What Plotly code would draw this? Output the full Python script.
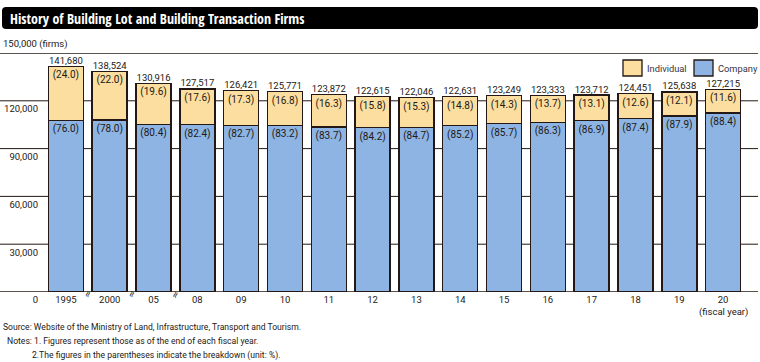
import plotly.graph_objects as go

years = ["1995", "2000", "05", "08", "09", "10", "11", "12", "13", "14", "15", "16", "17", "18", "19", "20"]
totals = [141680, 138524, 130916, 127517, 126421, 125771, 123872, 122615, 122046, 122631,
          123249, 123333, 123712, 124451, 125638, 127215]
company_pct = [76.0, 78.0, 80.4, 82.4, 82.7, 83.2, 83.7, 84.2, 84.7, 85.2, 85.7, 86.3, 86.9, 87.4, 87.9, 88.4]
individual_pct = [24.0, 22.0, 19.6, 17.6, 17.3, 16.8, 16.3, 15.8, 15.3, 14.8, 14.3, 13.7, 13.1, 12.6, 12.1, 11.6]
y_ticks = [0, 30000, 60000, 90000, 120000]
y_top = 150000
series_names = ["Individual", "Company"]

company_vals = [t * p / 100 for t, p in zip(totals, company_pct)]
individual_vals = [t - c for t, c in zip(totals, company_vals)]

FONT = "Roboto, DejaVu Sans Condensed, sans-serif"
TFONT = "Open Sans Condensed, DejaVu Sans Condensed, sans-serif"
INK = "#231815"
COLORS = {"Individual": "#FCDFA0", "Company": "#8DB4E2"}
W, H = 760, 362
L, R, T, B = 44, 745, 53, 292
PW, PH = R - L, B - T


def px(x):
    return (x - L) / PW


def py(y):
    return (B - y) / PH


fig = go.Figure()
fig.add_trace(go.Bar(
    name="Company", x=years, y=company_vals, customdata=company_pct,
    marker=dict(color=COLORS["Company"], line=dict(color=INK, width=1.5)),
    texttemplate="(%{customdata:.1f})", textposition="inside", insidetextanchor="end",
    textangle=0, constraintext="none", showlegend=False,
    textfont=dict(family=FONT, size=10, color=INK), hoverinfo="skip",
))
fig.add_trace(go.Bar(
    name="Individual", x=years, y=individual_vals, customdata=individual_pct,
    marker=dict(color=COLORS["Individual"], line=dict(color=INK, width=1.5)),
    texttemplate="(%{customdata:.1f})", textposition="inside", insidetextanchor="end",
    textangle=0, constraintext="none", showlegend=False,
    textfont=dict(family=FONT, size=10, color=INK), hoverinfo="skip",
))
fig.add_trace(go.Scatter(
    x=years, y=totals, mode="text", text=[f"{v:,}" for v in totals],
    textposition="top center", textfont=dict(family=FONT, size=9.5, color=INK),
    showlegend=False, cliponaxis=False, hoverinfo="skip",
))

shapes = []
# title bar
x0, x1, y0, y1, r = px(2), px(758), py(29), py(7), 4
rx, ry = r / PW, r / PH
shapes.append(dict(
    type="path", xref="paper", yref="paper", layer="above",
    path=(f"M{x0+rx},{y0} L{x1-rx},{y0} Q{x1},{y0} {x1},{y0+ry} L{x1},{y1-ry} Q{x1},{y1} {x1-rx},{y1} "
          f"L{x0+rx},{y1} Q{x0},{y1} {x0},{y1-ry} L{x0},{y0+ry} Q{x0},{y0} {x0+rx},{y0} Z"),
    fillcolor="black", line=dict(width=0),
))
for v in y_ticks + [y_top]:
    shapes.append(dict(type="line", xref="paper", yref="y", x0=px(0), x1=px(758), y0=v, y1=v,
                       layer="below", line=dict(color=INK, width=1.3 if v in (0, y_top) else 1)))

annotations = [
    dict(text="<b>History of Building Lot and Building Transaction Firms</b>", xref="paper", yref="paper",
         x=px(8), y=py(18), xanchor="left", yanchor="middle", showarrow=False,
         font=dict(family=TFONT, size=14, color="white")),
    dict(text="150,000 (firms)", xref="paper", yref="paper", x=px(1), y=py(44), xanchor="left",
         yanchor="middle", showarrow=False, font=dict(family=FONT, size=9.5, color=INK)),
    dict(text="(fiscal year)", xref="x", yref="paper", x=15, y=py(312), xanchor="center",
         yanchor="middle", showarrow=False, font=dict(family=FONT, size=9.5, color=INK)),
    dict(text="Source: Website of the Ministry of Land, Infrastructure, Transport and Tourism.",
         xref="paper", yref="paper", x=px(1), y=py(327), xanchor="left", yanchor="middle",
         showarrow=False, font=dict(family=FONT, size=8.6, color=INK)),
    dict(text="Notes: 1. Figures represent those as of the end of each fiscal year.",
         xref="paper", yref="paper", x=px(5), y=py(341), xanchor="left", yanchor="middle",
         showarrow=False, font=dict(family=FONT, size=8.6, color=INK)),
    dict(text="2.The figures in the parentheses indicate the breakdown (unit: %).",
         xref="paper", yref="paper", x=px(30), y=py(355), xanchor="left", yanchor="middle",
         showarrow=False, font=dict(family=FONT, size=8.6, color=INK)),
]
for k in (0.5, 1.5, 2.5):
    annotations.append(dict(text="≈", xref="x", yref="paper", x=k, y=py(294), xanchor="center",
                            yanchor="middle", textangle=-70, showarrow=False,
                            font=dict(family="DejaVu Sans", size=9, color=INK)))

# legend (swatch + label)
for name, sx in zip(series_names, (623, 694)):
    shapes.append(dict(type="rect", xref="paper", yref="paper", x0=px(sx), x1=px(sx + 19),
                       y0=py(76), y1=py(60), fillcolor=COLORS[name], line=dict(color=INK, width=1.3),
                       layer="above"))
    annotations.append(dict(text=name, xref="paper", yref="paper", x=px(sx + 22), y=py(68),
                            xanchor="left", yanchor="middle", showarrow=False,
                            font=dict(family=FONT, size=9.3, color="#333344")))

fig.update_layout(
    width=W, height=H, margin=dict(l=L, r=W - R, t=T, b=H - B, autoexpand=False),
    paper_bgcolor="white", plot_bgcolor="white",
    barmode="stack", bargap=0.2, showlegend=False,
    font=dict(family=FONT, size=9.5, color=INK),
    shapes=shapes, annotations=annotations,
    xaxis=dict(type="category", range=[-0.5, len(years) - 0.5], showgrid=False, showline=False,
               ticks="", zeroline=False, tickfont=dict(family=FONT, size=9.5, color=INK)),
    yaxis=dict(range=[0, y_top], tickvals=y_ticks, ticktext=[f"{v:,}" for v in y_ticks],
               showgrid=False, zeroline=False, showline=False, ticks="",
               ticklabelstandoff=5, ticklabelshift=8,
               tickfont=dict(family=FONT, size=9.5, color=INK)),
)

fig.write_html("out.html", config={"displayModeBar": False},
               post_script="document.body.style.margin='0';")
